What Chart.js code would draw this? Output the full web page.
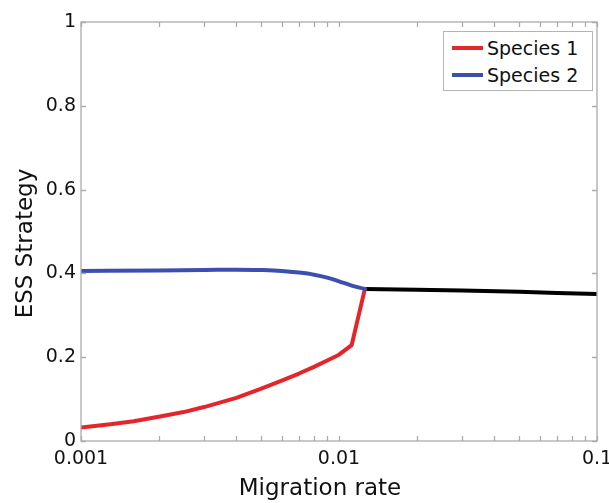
<!DOCTYPE html>
<html>
<head>
<meta charset="utf-8">
<script src="https://cdn.jsdelivr.net/npm/chart.js@4"></script>
<style>
  html, body { margin: 0; padding: 0; background: #fff; overflow: hidden; }
  #wrap { position: relative; width: 609px; height: 503px; overflow: hidden; }
  #c { position: absolute; left: 0; top: 0; }
  #legend {
    position: absolute; left: 443px; top: 31px; width: 148px; height: 58px;
    border: 1px solid #b5b5b5; background: #fff;
    font-family: "DejaVu Sans", sans-serif; font-size: 19px; color: #111;
  }
  .item { position: absolute; left: 0; height: 24px; line-height: 24px; white-space: nowrap; }
  .swatch { position: absolute; left: 8px; top: 10px; width: 31px; height: 4px; }
  .lbl { position: absolute; left: 43px; top: 0; }
</style>
</head>
<body>
<div id="wrap">
  <canvas id="c" width="625" height="503"></canvas>
  <div id="legend"></div>
</div>
<script>
// ---- data ----
const xTickLabels = [0.001, 0.01, 0.1];
const yTickLabels = [0, 0.2, 0.4, 0.6, 0.8, 1];
const minorXTicks = [0.002,0.003,0.004,0.005,0.006,0.007,0.008,0.009,0.02,0.03,0.04,0.05,0.06,0.07,0.08,0.09];
const xTitle = 'Migration rate';
const yTitle = 'ESS Strategy';

const species1X = [0.001, 0.0013, 0.0016, 0.002, 0.0025, 0.003, 0.004, 0.005, 0.006, 0.007, 0.008, 0.009, 0.01, 0.0112, 0.0126];
const species1Y = [0.032, 0.040, 0.047, 0.058, 0.069, 0.081, 0.103, 0.125, 0.144, 0.161, 0.177, 0.192, 0.206, 0.229, 0.363];

const species2X = [0.001, 0.002, 0.003, 0.004, 0.005, 0.006, 0.007, 0.008, 0.009, 0.01, 0.0112, 0.0126];
const species2Y = [0.406, 0.407, 0.408, 0.409, 0.408, 0.406, 0.402, 0.397, 0.390, 0.381, 0.371, 0.363];

const commonX = [0.0126, 0.02, 0.03, 0.05, 0.07, 0.1];
const commonY = [0.363, 0.361, 0.359, 0.356, 0.353, 0.351];

const seriesNames = ['Species 1', 'Species 2'];
const seriesColors = ['#e3262b', '#3d4fae'];

function pts(xs, ys) { return xs.map((x, i) => ({ x: x, y: ys[i] })); }

const FONT = '"DejaVu Sans", sans-serif';
const TEXT = '#111111';
const BOX = '#ababab';

const boxTicks = {
  id: 'boxTicks',
  afterDatasetsDraw(chart) {
    const ctx = chart.ctx;
    const a = chart.chartArea;
    const xs = chart.scales.x, ys = chart.scales.y;
    ctx.save();
    ctx.strokeStyle = BOX;
    ctx.lineWidth = 1.3;
    ctx.strokeRect(a.left, a.top, a.right - a.left, a.bottom - a.top);
    const L = 5;
    ctx.beginPath();
    xTickLabels.concat(minorXTicks).forEach(v => {
      const px = Math.round(xs.getPixelForValue(v)) + 0.5;
      ctx.moveTo(px, a.bottom); ctx.lineTo(px, a.bottom - L);
      ctx.moveTo(px, a.top); ctx.lineTo(px, a.top + L);
    });
    yTickLabels.forEach(v => {
      const py = Math.round(ys.getPixelForValue(v)) + 0.5;
      ctx.moveTo(a.left, py); ctx.lineTo(a.left + L, py);
      ctx.moveTo(a.right, py); ctx.lineTo(a.right - L, py);
    });
    ctx.stroke();
    // axis titles (placed like the reference, slightly off-centre)
    ctx.fillStyle = TEXT;
    ctx.font = '23px ' + FONT;
    ctx.textAlign = 'center';
    ctx.textBaseline = 'middle';
    ctx.fillText(xTitle, (a.left + a.right) / 2 - 19, 489);
    ctx.translate(26, (a.top + a.bottom) / 2 + 12);
    ctx.rotate(-Math.PI / 2);
    ctx.fillText(yTitle, 0, 0);
    ctx.restore();
  }
};

new Chart(document.getElementById('c'), {
  type: 'line',
  data: {
    datasets: [
      { label: seriesNames[1], data: pts(species2X, species2Y), borderColor: seriesColors[1], order: 0,
        tension: 0.3, cubicInterpolationMode: 'monotone' },
      { label: seriesNames[0], data: pts(species1X, species1Y), borderColor: seriesColors[0], order: 1, tension: 0 },
      { label: 'common', data: pts(commonX, commonY), borderColor: '#000000', order: 2, tension: 0 }
    ]
  },
  options: {
    responsive: false,
    animation: false,
    elements: {
      line: { borderWidth: 4, borderCapStyle: 'round', borderJoinStyle: 'round' },
      point: { radius: 0 }
    },
    layout: { padding: { top: 22, right: 28, left: 0, bottom: 0 } },
    plugins: { legend: { display: false }, tooltip: { enabled: false } },
    scales: {
      x: {
        type: 'logarithmic',
        min: 0.001, max: 0.1,
        afterBuildTicks(s) { s.ticks = xTickLabels.map(v => ({ value: v, major: true })); },
        afterFit(s) { s.height = 62; },
        grid: { display: false, drawTicks: false },
        border: { display: false },
        ticks: {
          autoSkip: false, maxRotation: 0, padding: 7,
          color: TEXT, font: { family: FONT, size: 19 },
          callback: (v) => String(v)
        },
        title: { display: false }
      },
      y: {
        type: 'linear',
        min: 0, max: 1,
        afterBuildTicks(s) { s.ticks = yTickLabels.map(v => ({ value: v })); },
        afterFit(s) { s.width = 81; },
        grid: { display: false, drawTicks: false },
        border: { display: false },
        ticks: {
          padding: 5, color: TEXT, font: { family: FONT, size: 19 },
          callback: (v) => (v === 0 ? '0' : v === 1 ? '1' : v.toFixed(1))
        },
        title: { display: false }
      }
    }
  },
  plugins: [boxTicks]
});

// HTML legend built from the series arrays
const leg = document.getElementById('legend');
seriesNames.forEach((name, i) => {
  const it = document.createElement('div');
  it.className = 'item';
  it.style.top = (4 + i * 27) + 'px';
  const sw = document.createElement('span');
  sw.className = 'swatch';
  sw.style.background = seriesColors[i];
  const tx = document.createElement('span');
  tx.className = 'lbl';
  tx.textContent = name;
  it.appendChild(sw); it.appendChild(tx);
  leg.appendChild(it);
});
</script>
</body>
</html>
